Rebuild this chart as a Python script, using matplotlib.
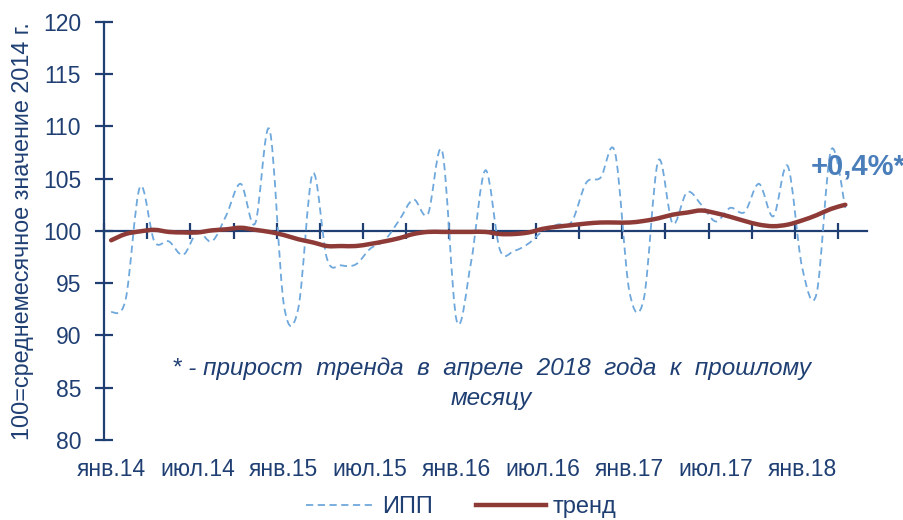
import matplotlib
matplotlib.use("Agg")
import matplotlib.pyplot as plt
import numpy as np
from matplotlib.path import Path
from matplotlib.patches import PathPatch
from matplotlib.lines import Line2D

plt.rcParams['font.family'] = ['Liberation Sans', 'DejaVu Sans']

# месяцы янв.2014 - апр.2018
ipp = [92.2, 93.4, 104.2, 99.0, 99.0, 97.7, 99.9, 99.0, 101.5, 104.5,
       100.7, 109.7, 92.9, 92.6, 105.5, 97.3, 96.7, 96.8, 98.3, 99.1,
       101.0, 103.0, 101.6, 107.6, 91.4, 97.0, 105.8, 98.2, 98.1, 98.8,
       100.0, 100.6, 100.9, 104.6, 105.1, 107.5, 94.2, 93.5, 106.7, 100.7,
       103.7, 102.5, 100.9, 102.2, 101.8, 104.5, 101.4, 106.2, 96.5, 94.0,
       107.7, 102.2]
trend = [99.1, 99.7, 99.95, 100.1, 99.9, 99.85, 99.85, 100.05, 100.15, 100.3,
         100.1, 99.9, 99.6, 99.2, 98.9, 98.55, 98.55, 98.55, 98.75, 99.0,
         99.3, 99.7, 99.9, 99.9, 99.9, 99.9, 99.9, 99.7, 99.7, 99.85,
         100.2, 100.4, 100.55, 100.7, 100.8, 100.8, 100.8, 100.95, 101.2, 101.55,
         101.75, 101.95, 101.7, 101.35, 100.95, 100.6, 100.45, 100.6, 101.0, 101.5,
         102.1, 102.5]
xlabels = ['янв.14', 'июл.14', 'янв.15', 'июл.15', 'янв.16',
           'июл.16', 'янв.17', 'июл.17', 'янв.18']
n_cat = 53  # на оси есть еще одна пустая категория (май 18)

NAVY = '#1F3F73'


def smooth_path(y):
    '''сглаженная линия как в excel (кривые безье)'''
    x = np.arange(len(y), dtype=float)
    y = np.asarray(y, dtype=float)
    pts = np.column_stack([x, y])
    verts = [pts[0]]
    codes = [Path.MOVETO]
    for i in range(len(pts) - 1):
        p0 = pts[max(i - 1, 0)]
        p1 = pts[i]
        p2 = pts[i + 1]
        p3 = pts[min(i + 2, len(pts) - 1)]
        c1 = p1 + (p2 - p0) / 6.0
        c2 = p2 - (p3 - p1) / 6.0
        verts += [c1, c2, p2]
        codes += [Path.CURVE4] * 3
    return Path(verts, codes)


fig = plt.figure(figsize=(9.04, 5.2), dpi=100)
ax = fig.add_axes([0.115, 0.154, 0.844, 0.804])

ax.add_patch(PathPatch(smooth_path(ipp), fill=False, edgecolor='#6FA8DC',
                       lw=1.3, linestyle=(0, (4, 2.5)), zorder=3))
ax.add_patch(PathPatch(smooth_path(trend), fill=False, edgecolor='#8E3B38',
                       lw=3.2, capstyle='round', zorder=4))

ax.set_xlim(-0.5, n_cat - 0.5)
ax.set_ylim(80, 120)
ax.set_yticks(np.arange(80, 121, 5))

for s in ['top', 'right']:
    ax.spines[s].set_visible(False)
ax.spines['left'].set_color(NAVY)
ax.spines['left'].set_linewidth(1.6)
ax.spines['bottom'].set_position(('data', 100))
ax.spines['bottom'].set_color(NAVY)
ax.spines['bottom'].set_linewidth(1.6)

ax.tick_params(axis='y', direction='inout', length=13, width=1.6,
               colors=NAVY, labelsize=16.5, pad=10)
ax.set_xticks(np.arange(-0.5, n_cat - 1, 3))
ax.tick_params(axis='x', direction='inout', length=12, width=1.6,
               colors=NAVY, labelbottom=False)

sec = ax.secondary_xaxis(location=0)
sec.set_xticks(np.arange(0, len(xlabels) * 6, 6), xlabels)
sec.tick_params(length=0, pad=13, labelsize=16.5, colors=NAVY)
sec.spines['bottom'].set_visible(False)

ax.set_ylabel('100=среднемесячное значение 2014 г.', fontsize=16.8,
              color=NAVY, labelpad=6)

ax.text(26.4, 85.4, '* - прирост  тренда  в  апреле  2018  года  к  прошлому\nмесяцу',
        ha='center', va='center', fontsize=17.5, style='italic', color=NAVY,
        linespacing=1.4)
ax.text(48.6, 106.2, '+0,4%*', ha='left', va='center', fontsize=21,
        fontweight='bold', color='#4A7EBB', clip_on=False)

handles = [Line2D([], [], color='#6FA8DC', lw=1.3, linestyle=(0, (4, 2.5))),
           Line2D([], [], color='#8E3B38', lw=3.2)]
fig.legend(handles, ['ИПП', 'тренд'], loc='center', bbox_to_anchor=(0.51, 0.025),
           ncol=2, frameon=False, fontsize=17, handlelength=2.96,
           handletextpad=0.3, columnspacing=1.8, labelcolor=NAVY)

fig.savefig('out.png', dpi=100)
